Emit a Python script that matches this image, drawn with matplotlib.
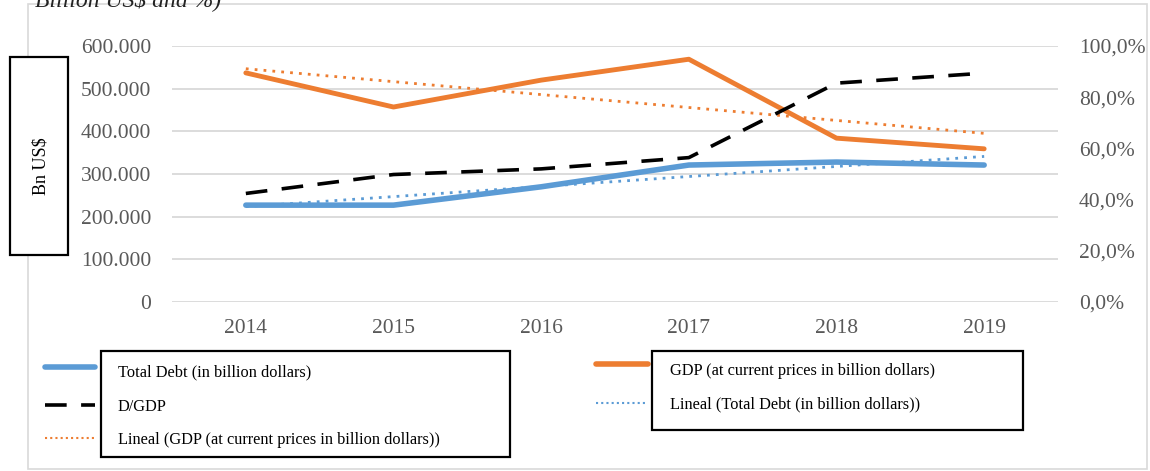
import numpy as np
import matplotlib
matplotlib.use("Agg")
import matplotlib.pyplot as plt
from matplotlib.patches import Rectangle
from matplotlib.lines import Line2D

# data
years = ["2014", "2015", "2016", "2017", "2018", "2019"]
total_debt = [227, 227, 270, 321, 328, 321]      # thousand -> shown as 200.000 etc.
gdp = [537, 457, 520, 569, 384, 359]
d_gdp = [42.4, 49.8, 52.0, 56.4, 85.5, 89.4]     # percent

left_ticks = [0, 100, 200, 300, 400, 500, 600]
left_labels = ["0", "100.000", "200.000", "300.000", "400.000", "500.000", "600.000"]
right_ticks = [0, 20, 40, 60, 80, 100]
right_labels = ["0,0%", "20,0%", "40,0%", "60,0%", "80,0%", "100,0%"]

blue = "#5b9bd5"
orange = "#ed7d31"
gray_txt = "#595959"
serif = ["Liberation Serif", "DejaVu Serif"]

plt.rcParams["font.family"] = serif

W, H = 1150, 471
fig = plt.figure(figsize=(W / 100, H / 100), dpi=100)

def fx(px):
    return px / W

def fy(py):
    return 1 - py / H

# outer chart frame
fig.patches.append(Rectangle((fx(28), fy(469)), fx(1147) - fx(28), fy(4) - fy(469),
                             transform=fig.transFigure, fill=False,
                             edgecolor="#d9d9d9", linewidth=1.2))

# caption, cut off by the top edge as in the source
fig.text(fx(35), fy(6), "Billion US$ and %)", fontsize=17, style="italic",
         color="#222222", ha="left", va="baseline")

ax = fig.add_axes([fx(172), fy(302), fx(1058) - fx(172), fy(46) - fy(302)])
ax2 = ax.twinx()

x = np.arange(len(years))

# linear trend lines (as Excel "Lineal")
debt_fit = np.polyval(np.polyfit(x, total_debt, 1), x)
gdp_fit = np.polyval(np.polyfit(x, gdp, 1), x)

ax.plot(x, total_debt, color=blue, lw=4, solid_capstyle="round", zorder=3)
ax.plot(x, gdp, color=orange, lw=3.5, solid_capstyle="round", zorder=3)
ax.plot(x, debt_fit, color=blue, lw=2, ls=(0, (1, 2.2)), zorder=2)
ax.plot(x, gdp_fit, color=orange, lw=2, ls=(0, (1, 2.2)), zorder=2)
ax2.plot(x, d_gdp, color="black", lw=2.6, ls=(0, (6, 4)))

ax.set_xlim(-0.5, 5.5)
ax.set_ylim(0, 600)
ax2.set_ylim(0, 100)

ax.set_yticks(left_ticks)
ax.set_yticklabels(left_labels)
ax2.set_yticks(right_ticks)
ax2.set_yticklabels(right_labels)
ax.set_xticks(x)
ax.set_xticklabels(years)

ax.grid(axis="y", color="#d9d9d9", lw=1.3)
ax.set_axisbelow(True)
for a in (ax, ax2):
    for s in a.spines.values():
        s.set_visible(False)
    a.tick_params(length=0, labelsize=15.5, labelcolor=gray_txt)
ax.tick_params(axis="y", pad=15)
ax2.tick_params(axis="y", pad=15)
ax.tick_params(axis="x", pad=12)

# y axis label box
fig.patches.append(Rectangle((fx(10), fy(255)), fx(68) - fx(10), fy(57) - fy(255),
                             transform=fig.transFigure, facecolor="white",
                             edgecolor="black", linewidth=1.6, zorder=5))
fig.text(fx(41), fy(166), "Bn US$", rotation=90, ha="center", va="center",
         fontsize=13, zorder=6)

# legend samples
fig.lines.append(Line2D([fx(45), fx(95)], [fy(367), fy(367)], color=blue, lw=4,
                        solid_capstyle="round", transform=fig.transFigure))
fig.lines.append(Line2D([fx(45), fx(95)], [fy(405), fy(405)], color="black", lw=2.6,
                        ls=(0, (6, 4)), transform=fig.transFigure))
fig.lines.append(Line2D([fx(45), fx(95)], [fy(438), fy(438)], color=orange, lw=1.5,
                        ls=(0, (1, 1.5)), transform=fig.transFigure))
fig.lines.append(Line2D([fx(596), fx(648)], [fy(364), fy(364)], color=orange, lw=4,
                        solid_capstyle="round", transform=fig.transFigure))
fig.lines.append(Line2D([fx(596), fx(645)], [fy(403), fy(403)], color=blue, lw=1.5,
                        ls=(0, (1, 1.5)), transform=fig.transFigure))

# legend text boxes
fig.patches.append(Rectangle((fx(101), fy(457)), fx(510) - fx(101), fy(351) - fy(457),
                             transform=fig.transFigure, facecolor="white",
                             edgecolor="black", linewidth=1.6, zorder=5))
fig.patches.append(Rectangle((fx(652), fy(430)), fx(1023) - fx(652), fy(351) - fy(430),
                             transform=fig.transFigure, facecolor="white",
                             edgecolor="black", linewidth=1.6, zorder=5))

left_items = ["Total Debt (in billion dollars)", "D/GDP",
              "Lineal (GDP (at current prices in billion dollars))"]
for txt, py in zip(left_items, [372, 407, 440]):
    fig.text(fx(118), fy(py), txt, fontsize=11.8, ha="left", va="center", zorder=6)
right_items = ["GDP (at current prices in billion dollars)",
               "Lineal (Total Debt (in billion dollars))"]
for txt, py in zip(right_items, [371, 404]):
    fig.text(fx(670), fy(py), txt, fontsize=11.8, ha="left", va="center", zorder=6)

fig.savefig("out.png", dpi=100, facecolor="white")
